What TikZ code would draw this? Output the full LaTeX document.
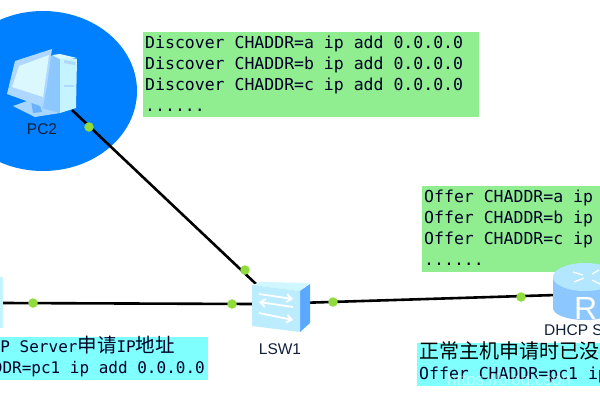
\documentclass[tikz,border=0pt]{standalone}
\usepackage{fontspec}
\usetikzlibrary{arrows.meta}
\setmainfont{Liberation Sans}
\setmonofont{DejaVu Sans Mono}
\newfontfamily\cjk{Noto Sans CJK SC}
\definecolor{halo}{HTML}{0080FF}
\definecolor{notegreen}{HTML}{90EE90}
\definecolor{notecyan}{HTML}{80FFFF}
\definecolor{portdot}{HTML}{8FDC3C}
\definecolor{devlight}{HTML}{C4F4FF}
\definecolor{devmid}{HTML}{8CC8FF}
\definecolor{devdeep}{HTML}{5AA8FF}
\definecolor{labelink}{HTML}{10203A}
\tikzset{
  link/.style={draw=black,line width=2.6pt},
  portmark/.style={circle,fill=portdot,draw=none,minimum size=9.5pt,inner sep=0pt},
  codeline/.style={anchor=base west,inner sep=0pt,font=\ttfamily\fontsize{16.5}{20}\selectfont,text=black!85!blue},
  codeeast/.style={anchor=base east,inner sep=0pt,font=\ttfamily\fontsize{16}{20}\selectfont,text=black!85!blue},
  devlabel/.style={inner sep=0pt,font=\fontsize{15.5}{18}\selectfont,text=labelink},
  facearrow/.style={white,line width=1.8pt},
}
\begin{document}
\begin{tikzpicture}[x=1pt,y=-1pt]
\useasboundingbox (0,0) rectangle (600,400);
\clip (0,0) rectangle (600,400);
\fill[white] (0,0) rectangle (600,400);

% highlight around the attacking host
\fill[halo] (43,91) ellipse [x radius=94,y radius=80];

% note panels
\fill[notegreen] (143,32) rectangle (479,117);
\fill[notegreen] (422,186) rectangle (600,272);
\fill[notecyan] (0,337) rectangle (208,380);
\fill[notecyan] (417,343) rectangle (600,386);

% port ends of the links
\coordinate (pcport) at (72,110);
\coordinate (swnw) at (256,284);
\coordinate (pcone) at (3,303);
\coordinate (swwest) at (254,304);
\coordinate (sweast) at (298,303);
\coordinate (rtwest) at (556,295);
\draw[link] (pcport) -- (swnw);
\draw[link] (pcone) -- (swwest);
\draw[link] (sweast) -- (rtwest);

% host partly outside the frame on the left
\fill[devlight] (0,277) rectangle (3,328);

% PC2: stand, tower and monitor
\fill[devmid!75!white] (13,106) -- (30,100) -- (60,113) -- (35,117) -- cycle;
\fill[devdeep!70!devmid] (31,100) -- (38,99) -- (42,112) -- (33,113) -- cycle;
\fill[devmid] (42,108) -- (50,56) -- (60,55) -- (60,113) -- cycle;
\fill[devlight] (60,56) -- (77,59) -- (76,108) -- (60,113) -- cycle;
\fill[devlight!60!white] (52,55) -- (60,54) -- (77,58) -- (60,59) -- cycle;
\fill[devmid!70!white] (64,60) -- (75,62) -- (75,65) -- (64,63) -- cycle;
\fill[devmid!70!white] (64,85) -- (74,85) -- (74,87) -- (64,87) -- cycle;
\fill[devmid!70!white] (15,61) -- (52,49) -- (47,85) -- (43,107) -- (7,94) -- cycle;
\fill[devlight!60!white] (19,66) -- (49,55) -- (43,97) -- (12,87) -- cycle;

% LSW1: box with three arrows on its face
\fill[devlight!80!white] (252,285) -- (261,282) -- (309,283) -- (300,291) -- cycle;
\fill[devdeep] (300,291) -- (310,284) -- (310,323) -- (300,332) -- cycle;
\fill[devlight!85!devmid] (252,285) -- (300,291) -- (300,332) -- (252,326) -- cycle;
\draw[facearrow,-{Straight Barb[length=5pt,width=8pt]}] (259,294) -- (293,299);
\draw[facearrow,{Straight Barb[length=5pt,width=8pt]}-] (259,302) -- (293,307);
\draw[facearrow,-{Straight Barb[length=5pt,width=8pt]}] (259,313) -- (293,320);

% router cut by the right edge
\fill[devmid] (553,278) -- (553,308) arc[start angle=180,end angle=0,x radius=32,y radius=12] -- (617,278) -- cycle;
\fill[devlight!70!devmid] (585,277) ellipse [x radius=32,y radius=14];
\node[inner sep=0pt,font=\fontsize{32}{32}\selectfont,text=white,anchor=base west] (rtmark) at (574,319) {R};
\draw[white,line width=1.3pt] (573,272) -- (583,275) (592,274) -- (599,270) (574,282) -- (584,278) (592,280) -- (600,284);

% port markers along the links
\node[portmark] (dotpc) at (89,127) {};
\node[portmark] (dotswa) at (245,270) {};
\node[portmark] (dotleft) at (33,303) {};
\node[portmark] (dotswb) at (232,304) {};
\node[portmark] (dotswc) at (333,302) {};
\node[portmark] (dotrt) at (521,297) {};

% device labels
\node[devlabel] (pclabel) at (42,129) {PC2};
\node[devlabel] (swlabel) at (280,349) {LSW1};
\node[devlabel,anchor=west] (rtlabel) at (544,330) {DHCP Server};

% captured frames listed in the upper panel
\node[codeline] (da) at (145,48) {Discover CHADDR=a ip add 0.0.0.0};
\node[codeline] (db) at (145,69) {Discover CHADDR=b ip add 0.0.0.0};
\node[codeline] (dc) at (145,90) {Discover CHADDR=c ip add 0.0.0.0};
\node[codeline] (dd) at (145,111) {......};

% replies from the server
\node[codeline] (oa) at (424,202) {Offer CHADDR=a ip add 0.0.0.0};
\node[codeline] (ob) at (424,223) {Offer CHADDR=b ip add 0.0.0.0};
\node[codeline] (oc) at (424,244) {Offer CHADDR=c ip add 0.0.0.0};
\node[codeline] (od) at (424,265) {......};

% request from the ordinary host
\node[codeeast] (ra) at (175,352) {DHCP Server{\cjk\fontsize{19.5}{20}\selectfont 申请}IP{\cjk\fontsize{19.5}{20}\selectfont 地址}};
\node[codeeast] (rb) at (205,373) {CHADDR=pc1 ip add 0.0.0.0};

% reply once the pool has run out
\node[anchor=base west,inner sep=0pt,font=\cjk\fontsize{20}{22}\selectfont,text=black] (sa) at (419,358) {正常主机申请时已没有地址};
\node[codeline] (sb) at (419,379) {Offer CHADDR=pc1 ip add 0.0.0.0};
\node[anchor=base west,inner sep=0pt,font=\fontsize{17}{20}\selectfont,text=white,opacity=0.45] (mark) at (447,385) {https://blog.csdn};
\end{tikzpicture}
\end{document}
